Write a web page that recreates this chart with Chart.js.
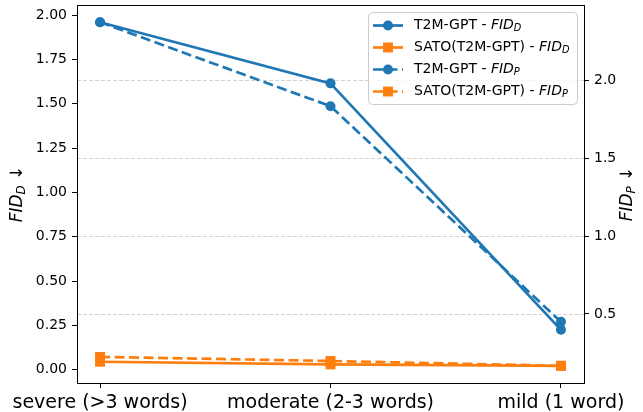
<!DOCTYPE html>
<html>
<head>
<meta charset="utf-8">
<script src="https://cdn.jsdelivr.net/npm/chart.js@4.4.0/dist/chart.umd.min.js"></script>
<style>
  html, body { margin: 0; padding: 0; background: #fff; }
  canvas { display: block; }
</style>
</head>
<body>
<canvas id="chart" width="643" height="412"></canvas>
<script>
// data
const categories = ["severe (>3 words)", "moderate (2-3 words)", "mild (1 word)"];
const t2mFidD = [1.96, 1.615, 0.225];
const satoFidD = [0.045, 0.03, 0.022];
const t2mFidP = [2.372, 1.833, 0.449];
const satoFidP = [0.224, 0.198, 0.167];
const seriesNames = ["T2M-GPT", "SATO(T2M-GPT)", "T2M-GPT", "SATO(T2M-GPT)"];
const metricSubs = ["D", "D", "P", "P"];

const BLUE = "#1f77b4";
const ORANGE = "#ff7f0e";
const FONT = "'DejaVu Sans', sans-serif";

function toPoints(values) {
  return values.map((v, i) => ({ x: i, y: v }));
}

// matplotlib style 5% autoscale margin
function paddedRange(a, b) {
  const all = a.concat(b);
  const lo = Math.min(...all);
  const hi = Math.max(...all);
  const pad = (hi - lo) * 0.05;
  return [lo - pad, hi + pad];
}

const [leftMin, leftMax] = paddedRange(t2mFidD, satoFidD);
const [rightMin, rightMax] = paddedRange(t2mFidP, satoFidP);

const seriesStyles = [
  { color: BLUE, style: "circle", radius: 5, dash: [], axis: "y", data: t2mFidD },
  { color: ORANGE, style: "rect", radius: 7, dash: [], axis: "y", data: satoFidD },
  { color: BLUE, style: "circle", radius: 5, dash: [10, 4.5], axis: "y1", data: t2mFidP },
  { color: ORANGE, style: "rect", radius: 7, dash: [10, 4.5], axis: "y1", data: satoFidP },
];

// draws "FID_sub suffix" starting at x, returns end x
function drawFid(ctx, x, y, sub, size, suffix) {
  ctx.font = `italic ${size}px ${FONT}`;
  ctx.fillText("FID", x, y);
  x += ctx.measureText("FID").width;
  ctx.font = `italic ${size * 0.7}px ${FONT}`;
  ctx.fillText(sub, x, y + size * 0.22);
  x += ctx.measureText(sub).width;
  if (suffix) {
    ctx.font = `${size}px ${FONT}`;
    ctx.fillText(suffix, x, y);
    x += ctx.measureText(suffix).width;
  }
  return x;
}

function fidWidth(ctx, sub, size, suffix) {
  ctx.font = `italic ${size}px ${FONT}`;
  let w = ctx.measureText("FID").width;
  ctx.font = `italic ${size * 0.7}px ${FONT}`;
  w += ctx.measureText(sub).width;
  if (suffix) {
    ctx.font = `${size}px ${FONT}`;
    w += ctx.measureText(suffix).width;
  }
  return w;
}

function noPadding(s) {
  s.paddingTop = 0;
  s.paddingBottom = 0;
  s.paddingLeft = 0;
  s.paddingRight = 0;
}

const decorPlugin = {
  id: "decor",
  beforeDatasetsDraw(chart) {
    const { ctx, chartArea } = chart;
    const right = chart.scales.y1;
    ctx.save();
    ctx.strokeStyle = "rgba(200, 200, 200, 0.8)";
    ctx.lineWidth = 1;
    ctx.setLineDash([4, 2]);
    right.ticks.forEach((t) => {
      const py = Math.round(right.getPixelForValue(t.value)) + 0.5;
      ctx.beginPath();
      ctx.moveTo(chartArea.left, py);
      ctx.lineTo(chartArea.right, py);
      ctx.stroke();
    });
    ctx.restore();
  },
  afterDatasetsDraw(chart) {
    const { ctx, chartArea } = chart;
    ctx.save();
    ctx.strokeStyle = "#000";
    ctx.lineWidth = 1;
    ctx.strokeRect(chartArea.left + 0.5, chartArea.top + 0.5,
      chartArea.right - chartArea.left, chartArea.bottom - chartArea.top);
    ctx.restore();
  },
  afterDraw(chart) {
    const { ctx, chartArea } = chart;
    ctx.save();
    ctx.fillStyle = "#000";
    ctx.textBaseline = "middle";
    const midY = (chartArea.top + chartArea.bottom) / 2;

    // left axis title
    ctx.save();
    ctx.translate(18, midY);
    ctx.rotate(-Math.PI / 2);
    let w = fidWidth(ctx, "D", 17, " \u2193");
    drawFid(ctx, -w / 2, 0, "D", 17, " \u2193");
    ctx.restore();

    // right axis title
    ctx.save();
    ctx.translate(628, midY);
    ctx.rotate(-Math.PI / 2);
    w = fidWidth(ctx, "P", 17, " \u2193");
    drawFid(ctx, -w / 2, 0, "P", 17, " \u2193");
    ctx.restore();

    // legend
    const lx = 368, ly = 12, lw = 209, lh = 92;
    ctx.beginPath();
    ctx.roundRect(lx + 0.5, ly + 0.5, lw, lh, 4);
    ctx.fillStyle = "rgba(255, 255, 255, 0.8)";
    ctx.fill();
    ctx.strokeStyle = "#cccccc";
    ctx.lineWidth = 1;
    ctx.stroke();

    seriesStyles.forEach((s, i) => {
      const rowY = 25.5 + i * 22;
      ctx.strokeStyle = s.color;
      ctx.lineWidth = 2.7;
      ctx.setLineDash(s.dash);
      ctx.beginPath();
      ctx.moveTo(373, rowY);
      ctx.lineTo(403, rowY);
      ctx.stroke();
      ctx.setLineDash([]);
      ctx.fillStyle = s.color;
      if (s.style === "circle") {
        ctx.beginPath();
        ctx.arc(388, rowY, s.radius, 0, Math.PI * 2);
        ctx.fill();
      } else {
        const half = s.radius * Math.SQRT1_2;
        ctx.fillRect(388 - half, rowY - half, half * 2, half * 2);
      }
      ctx.fillStyle = "#000";
      ctx.font = `14px ${FONT}`;
      const prefix = seriesNames[i] + " - ";
      ctx.fillText(prefix, 414, rowY);
      const px = 414 + ctx.measureText(prefix).width;
      drawFid(ctx, px, rowY, metricSubs[i], 14, "");
    });
    ctx.restore();
  },
};

const ctx = document.getElementById("chart").getContext("2d");

new Chart(ctx, {
  type: "line",
  data: {
    datasets: seriesStyles.map((s, i) => ({
      label: seriesNames[i] + " - FID" + metricSubs[i],
      data: toPoints(s.data),
      yAxisID: s.axis,
      borderColor: s.color,
      backgroundColor: s.color,
      borderWidth: 2.7,
      borderDash: s.dash,
      pointStyle: s.style,
      pointRadius: s.radius,
      pointBorderWidth: 0,
      pointBackgroundColor: s.color,
      tension: 0,
      fill: false,
      clip: false,
      order: seriesStyles.length - i,
    })),
  },
  options: {
    responsive: false,
    animation: false,
    layout: {
      autoPadding: false,
      padding: { left: 28, right: 18, top: 5, bottom: 0 },
    },
    plugins: {
      legend: { display: false },
      tooltip: { enabled: false },
    },
    scales: {
      x: {
        type: "linear",
        min: -0.1,
        max: 2.1,
        afterFit: (s) => { s.height = 29; noPadding(s); },
        ticks: {
          stepSize: 1,
          includeBounds: false,
          autoSkip: false,
          maxRotation: 0,
          padding: 4,
          color: "#000",
          font: { size: 19, family: FONT },
          callback: (v) => (Number.isInteger(v) ? categories[v] : ""),
        },
        grid: {
          drawOnChartArea: false,
          drawTicks: true,
          tickLength: 5,
          tickColor: "#000",
        },
        border: { display: false },
      },
      y: {
        position: "left",
        min: leftMin,
        max: leftMax,
        afterFit: (s) => { s.width = 49; noPadding(s); },
        ticks: {
          stepSize: 0.25,
          includeBounds: false,
          padding: 5,
          color: "#000",
          font: { size: 14, family: FONT },
          callback: (v) => v.toFixed(2),
        },
        grid: {
          drawOnChartArea: false,
          drawTicks: true,
          tickLength: 5,
          tickColor: "#000",
        },
        border: { display: false },
      },
      y1: {
        position: "right",
        min: rightMin,
        max: rightMax,
        afterFit: (s) => { s.width = 41; noPadding(s); },
        ticks: {
          stepSize: 0.5,
          includeBounds: false,
          padding: 5,
          color: "#000",
          font: { size: 14, family: FONT },
          callback: (v) => v.toFixed(1),
        },
        grid: {
          drawOnChartArea: false,
          drawTicks: true,
          tickLength: 5,
          tickColor: "#000",
        },
        border: { display: false },
      },
    },
  },
  plugins: [decorPlugin],
});
</script>
</body>
</html>
